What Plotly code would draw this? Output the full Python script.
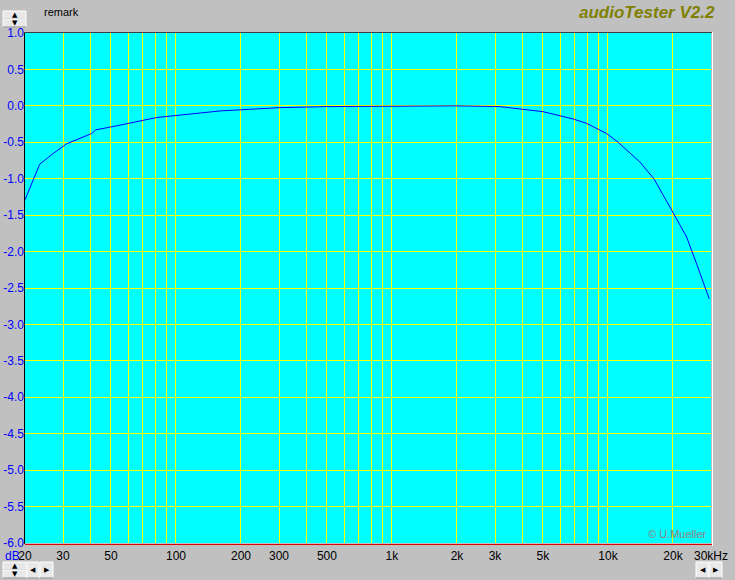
import math
import plotly.graph_objects as go

# ---- data ----
freq_hz = [20, 23.4, 27.1, 31.2, 40.7, 42.5, 55, 81.5, 160, 300, 500, 1000, 2000,
           3162, 3916, 5012, 6900, 7960, 9860, 11150, 14050, 16320, 19720, 23130, 25750, 29450]
level_db = [-1.29, -0.80, -0.65, -0.52, -0.38, -0.33, -0.265, -0.16, -0.07, -0.025, -0.01, 0.0, 0.0,
            -0.01, -0.045, -0.08, -0.18, -0.24, -0.38, -0.50, -0.77, -1.00, -1.43, -1.80, -2.17, -2.65]

grid_freqs = [20, 30, 40, 50, 60, 70, 80, 90, 100, 200, 300, 400, 500, 600, 700, 800, 900,
              1000, 2000, 3000, 4000, 5000, 6000, 7000, 8000, 9000, 10000, 20000, 30000]
labeled_freqs = [20, 30, 50, 100, 200, 300, 500, 1000, 2000, 3000, 5000, 10000, 20000, 30000]
freq_labels = ["20", "30", "50", "100", "200", "300", "500", "1k", "2k", "3k", "5k", "10k", "20k", "30kHz"]
y_ticks = [1.0, 0.5, 0.0, -0.5, -1.0, -1.5, -2.0, -2.5, -3.0, -3.5, -4.0, -4.5, -5.0, -5.5, -6.0]

tick_text = []
for f in grid_freqs:
    tick_text.append(freq_labels[labeled_freqs.index(f)] if f in labeled_freqs else "")

fig = go.Figure()
fig.add_trace(go.Scatter(x=freq_hz, y=level_db, mode="lines",
                         line=dict(color="#0000FF", width=1), hoverinfo="skip"))

W, H = 735, 580
L, R, T, B = 25, 24, 33, 37
PW, PH = W - L - R, H - T - B

fig.update_layout(
    width=W, height=H,
    margin=dict(l=L, r=R, t=T, b=B, pad=0, autoexpand=False),
    paper_bgcolor="#C0C0C0",
    plot_bgcolor="#00FFFF",
    showlegend=False,
    font=dict(family="Liberation Sans, Arial, sans-serif", size=12, color="#000000"),
    xaxis=dict(type="log", range=[math.log10(20), math.log10(30000)],
               tickmode="array", tickvals=grid_freqs, ticktext=tick_text,
               showgrid=True, gridcolor="#FFFF00", gridwidth=1,
               zeroline=False, showline=False, ticks="", ticklen=0, automargin=False,
               ticklabelstandoff=4,
               tickfont=dict(size=12, color="#000000")),
    yaxis=dict(range=[-6, 1], tickmode="array", tickvals=y_ticks,
               ticktext=["%.1f" % v for v in y_ticks],
               showgrid=True, gridcolor="#FFFF00", gridwidth=1,
               zeroline=False, showline=False, ticks="", ticklen=0, automargin=False,
               tickfont=dict(size=12, color="#0000FF")),
)

def px_x(p):
    return (p - L) / PW

def px_y(p):
    return 1 - (p - T) / PH

shapes = []
# borders
shapes.append(dict(type="line", xref="paper", yref="paper", x0=px_x(24.5), x1=px_x(24.5),
                   y0=px_y(32), y1=px_y(544), line=dict(color="#000000", width=1)))
shapes.append(dict(type="line", xref="paper", yref="paper", x0=px_x(24), x1=px_x(712),
                   y0=px_y(32.5), y1=px_y(32.5), line=dict(color="#404040", width=1)))
shapes.append(dict(type="line", xref="paper", yref="paper", x0=px_x(25), x1=px_x(712),
                   y0=px_y(544.5), y1=px_y(544.5), line=dict(color="#E00000", width=1)))
shapes.append(dict(type="line", xref="paper", yref="paper", x0=px_x(712.5), x1=px_x(712.5),
                   y0=px_y(32), y1=px_y(546), line=dict(color="#FFFFFF", width=1)))

annotations = []

def button(x0, y0, x1, y1, glyph, size=8):
    shapes.append(dict(type="rect", xref="paper", yref="paper",
                       x0=px_x(x0), x1=px_x(x1), y0=px_y(y1), y1=px_y(y0),
                       fillcolor="#E8E8E8", line=dict(color="#FFFFFF", width=1), layer="above"))
    shapes.append(dict(type="line", xref="paper", yref="paper",
                       x0=px_x(x0), x1=px_x(x1), y0=px_y(y1), y1=px_y(y1),
                       line=dict(color="#808080", width=1), layer="above"))
    annotations.append(dict(xref="paper", yref="paper", x=px_x((x0 + x1) / 2), y=px_y((y0 + y1) / 2),
                            text=glyph, showarrow=False, xanchor="center", yanchor="middle",
                            font=dict(size=size, color="#000000", family="DejaVu Sans")))

# spin widgets
button(3, 11, 26, 19, "▲", 7)
button(3, 19, 26, 27, "▼", 7)
button(3, 562, 26, 570, "▲", 7)
button(3, 570, 26, 578, "▼", 7)
button(27, 562, 39, 578, "◀", 7)
button(40, 562, 53, 578, "▶", 7)
button(696, 562, 709, 578, "◀", 7)
button(709, 562, 722, 578, "▶", 7)

annotations += [
    dict(xref="paper", yref="paper", x=px_x(42), y=px_y(12), text="remark", showarrow=False,
         xanchor="left", yanchor="middle", font=dict(size=11, color="#000000")),
    dict(xref="paper", yref="paper", x=px_x(717), y=px_y(13), text="<b><i>audioTester V2.2</i></b>",
         showarrow=False, xanchor="right", yanchor="middle",
         font=dict(size=17, color="#808000", family="Liberation Sans, Arial, sans-serif")),
    dict(xref="paper", yref="paper", x=px_x(709), y=px_y(534), text="© U.Mueller", showarrow=False,
         xanchor="right", yanchor="middle", font=dict(size=11, color="#948080")),
    dict(xref="paper", yref="paper", x=px_x(3), y=px_y(556), text="dB", showarrow=False,
         xanchor="left", yanchor="middle", font=dict(size=12, color="#0000FF")),
]

fig.update_layout(shapes=shapes, annotations=annotations)
fig.write_html("out.html", config={"displayModeBar": False},
               post_script="document.body.style.margin='0';document.body.style.background='#C0C0C0';")
